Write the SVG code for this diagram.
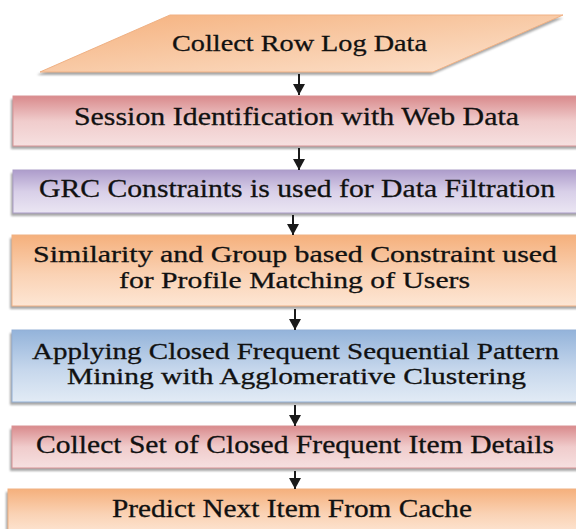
<svg xmlns="http://www.w3.org/2000/svg" width="576" height="529" viewBox="0 0 576 529">
  <defs>
    <linearGradient id="gOrange" x1="0" y1="0" x2="0" y2="1">
      <stop offset="0" stop-color="#f5b07c"/>
      <stop offset="0.55" stop-color="#fad2b4"/>
      <stop offset="1" stop-color="#fde6d4"/>
    </linearGradient>
    <linearGradient id="gPara" x1="0" y1="0" x2="1" y2="1">
      <stop offset="0" stop-color="#f5b07c"/>
      <stop offset="0.6" stop-color="#f9cfae"/>
      <stop offset="1" stop-color="#fde3cf"/>
    </linearGradient>
    <linearGradient id="gRed" x1="0" y1="0" x2="0" y2="1">
      <stop offset="0" stop-color="#d98a8c"/>
      <stop offset="0.5" stop-color="#f0cccc"/>
      <stop offset="1" stop-color="#f6e0e0"/>
    </linearGradient>
    <linearGradient id="gPurple" x1="0" y1="0" x2="0" y2="1">
      <stop offset="0" stop-color="#ad9ccb"/>
      <stop offset="0.5" stop-color="#d8cfe8"/>
      <stop offset="1" stop-color="#ebe6f3"/>
    </linearGradient>
    <linearGradient id="gBlue" x1="0" y1="0" x2="0" y2="1">
      <stop offset="0" stop-color="#93b3da"/>
      <stop offset="0.55" stop-color="#c6d7ec"/>
      <stop offset="1" stop-color="#e2ebf5"/>
    </linearGradient>
    <filter id="shadow" x="-5%" y="-20%" width="110%" height="150%">
      <feGaussianBlur stdDeviation="1.2"/>
    </filter>
    <marker id="arrow" markerUnits="userSpaceOnUse" markerWidth="13" markerHeight="12" refX="11" refY="6" orient="auto">
      <path d="M0,0 L11,6 L0,12 z" fill="#1a1a1a"/>
    </marker>
  </defs>
  <style>
    .sh { fill: #8a8a8a; opacity: 0.75; filter: url(#shadow); }
    .box { stroke-width: 1; }
    .o { fill: url(#gOrange); stroke: #f0b184; }
    .r { fill: url(#gRed); stroke: #d99496; }
    .p { fill: url(#gPurple); stroke: #ab9dc8; }
    .b { fill: url(#gBlue); stroke: #93b0d6; }
    text { font-family: "Liberation Serif", "DejaVu Serif", serif; fill: #111111; stroke: #111111; stroke-width: 0.3; }
    .conn line { stroke: #1a1a1a; stroke-width: 2; marker-end: url(#arrow); }
  </style>

  <g font-size="26">
  <g id="node1">
    <polygon class="sh" points="167,18 563,18 431,75 37,75"/>
    <polygon class="box" fill="url(#gPara)" stroke="#f0b184" points="170,15 563,15 433,72 40,72"/>
    <text x="172" y="51" font-size="24" textLength="255" lengthAdjust="spacingAndGlyphs">Collect Row Log Data</text>
  </g>

  <g id="node2">
    <rect class="sh" x="11" y="99" width="570" height="50"/>
    <rect class="box r" x="13" y="96" width="570" height="50"/>
    <text x="74" y="125" textLength="445" lengthAdjust="spacingAndGlyphs">Session Identification with Web Data</text>
  </g>

  <g id="node3">
    <rect class="sh" x="11" y="173" width="570" height="43"/>
    <rect class="box p" x="13" y="170" width="570" height="43"/>
    <text x="39" y="197" textLength="516" lengthAdjust="spacingAndGlyphs">GRC Constraints is used for Data Filtration</text>
  </g>

  <g id="node4">
    <rect class="sh" x="10" y="238" width="570" height="71"/>
    <rect class="box o" x="12" y="235" width="570" height="71"/>
    <text x="33" y="262" font-size="24" textLength="524" lengthAdjust="spacingAndGlyphs">Similarity and Group based Constraint used</text>
    <text x="119" y="288" font-size="24" textLength="351" lengthAdjust="spacingAndGlyphs">for Profile Matching of Users</text>
  </g>

  <g id="node5">
    <rect class="sh" x="10" y="333" width="570" height="72"/>
    <rect class="box b" x="12" y="330" width="570" height="72"/>
    <text x="32" y="359" font-size="24" textLength="527" lengthAdjust="spacingAndGlyphs">Applying Closed Frequent Sequential Pattern</text>
    <text x="67" y="384" font-size="24" textLength="459" lengthAdjust="spacingAndGlyphs">Mining with Agglomerative Clustering</text>
  </g>

  <g id="node6">
    <rect class="sh" x="10" y="429" width="570" height="42"/>
    <rect class="box r" x="12" y="426" width="570" height="42"/>
    <text x="36" y="453" textLength="518" lengthAdjust="spacingAndGlyphs">Collect Set of Closed Frequent Item Details</text>
  </g>

  <g id="node7">
    <rect class="sh" x="6" y="492" width="575" height="45"/>
    <rect class="box o" x="8" y="489" width="575" height="45"/>
    <text x="112" y="517" textLength="360" lengthAdjust="spacingAndGlyphs">Predict Next Item From Cache</text>
  </g>
  </g>

  <g id="connectors" class="conn">
    <line x1="299" y1="74" x2="299" y2="95"/>
    <line x1="299" y1="148" x2="299" y2="170"/>
    <line x1="293" y1="215" x2="293" y2="235"/>
    <line x1="295" y1="309" x2="295" y2="330"/>
    <line x1="295" y1="405" x2="295" y2="426"/>
    <line x1="295" y1="471" x2="295" y2="489"/>
  </g>
</svg>
